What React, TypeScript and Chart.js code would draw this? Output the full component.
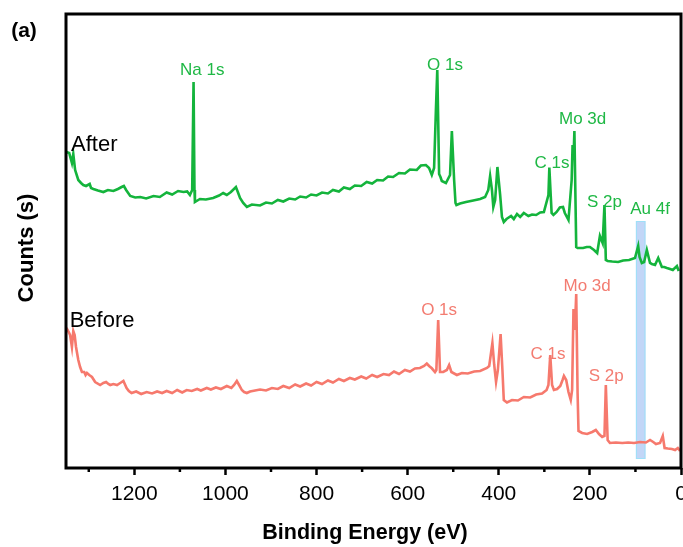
import React, { useEffect, useRef } from 'react';
import { Chart, registerables } from 'chart.js';

Chart.register(...registerables);

const FONT = "'Liberation Sans', Arial, Helvetica, sans-serif";
const GREEN = '#14b43c';
const GREEN_TEXT = '#1fb845';
const RED = '#f6796d';
const RED_TEXT = '#f37c71';

// Binding energy (eV) and counts (a.u.) for the "Before" spectrum
const beforeEnergy = [
  1349, 1344, 1341, 1337, 1334, 1331, 1328, 1323, 1319, 1315, 1310, 1307, 1304, 1299, 1293, 1286,
  1275, 1268, 1262, 1257, 1253, 1246, 1238, 1231, 1224, 1217, 1212, 1206, 1196, 1185, 1173, 1161,
  1150, 1139, 1129, 1117, 1106, 1095, 1085, 1074, 1062, 1054, 1041, 1032, 1021, 1010, 997, 987,
  981, 975, 970, 964, 959, 953, 946, 935, 924, 911, 898, 885, 873, 860, 847, 836, 823, 812, 800,
  788, 775, 764, 751, 740, 727, 716, 702, 691, 678, 667, 653, 641, 630, 619, 606, 595, 584, 573,
  564, 558, 553, 547, 540, 537, 535, 533, 531, 529, 522, 514, 509, 504, 492, 481, 468, 454, 441,
  426, 421, 414, 410, 406, 402, 396, 392, 389, 382, 371, 358, 345, 331, 318, 305, 295, 291, 287,
  283, 279, 272, 265, 260, 257, 252, 247, 242, 239, 236, 233, 230, 227, 225, 217, 206, 195, 187,
  180, 173, 168, 165, 161, 156, 143, 129, 116, 103, 90, 77, 68, 61, 55, 46, 40, 36, 29, 20, 13, 7, 2,
];
const beforeCounts = [
  140, 136, 133, 121, 137, 133, 121, 108, 101, 96, 96, 93, 95, 93, 91, 86,
  83, 85, 86, 84, 83, 84, 83, 85, 87, 80, 77, 75, 76.5, 74, 76, 74.5,
  76.5, 75, 77, 75, 78, 75.5, 78, 77, 79, 77.5, 80, 78.5, 80.5, 79, 82, 80,
  83, 87, 83, 78, 76, 75, 76.5, 77.5, 78.5, 77.5, 80, 79, 82, 80, 83.5, 81.5, 84.5, 82.5, 86,
  84, 87.5, 85.5, 89, 87, 90, 88.5, 91.5, 89.5, 93, 91, 94, 93, 96.5, 94, 98, 96.5, 99.5, 100,
  102, 104.5, 102, 99.7, 96, 98, 123, 148, 123, 96, 96, 98, 103, 96, 93, 95, 94.5, 96.5, 97,
  100, 102, 125, 103, 86, 98, 134, 98, 68, 65.5, 68, 67.5, 71, 70.5, 73.5, 74.5, 78, 83, 113,
  83, 78, 79, 82, 88, 92, 88, 76, 68, 78, 159, 138, 174, 75, 37, 35, 34, 36, 38,
  34, 31, 32, 83, 28, 25, 25.5, 25, 25.5, 25, 26, 25.5, 28, 26, 24, 25, 32, 20, 19.5, 19, 18, 20, 17,
];

// Binding energy (eV) and counts (a.u.) for the "After" spectrum
const afterEnergy = [
  1349, 1343, 1337, 1334, 1330, 1323, 1317, 1312, 1306, 1298, 1295, 1290, 1280, 1268, 1258, 1246,
  1236, 1228, 1223, 1218, 1209, 1198, 1187, 1174, 1158, 1144, 1129, 1117, 1104, 1092, 1084, 1078,
  1073, 1070, 1068, 1067, 1056, 1043, 1027, 1014, 1005, 997, 988, 977, 972, 968, 961, 953, 942,
  924, 911, 898, 885, 873, 860, 847, 836, 823, 812, 800, 788, 775, 764, 751, 740, 727, 716, 702,
  690, 678, 667, 654, 643, 632, 619, 606, 595, 580, 571, 560, 553, 547, 542, 538, 535, 533, 531,
  528, 525, 516, 507, 503, 498, 495, 493, 485, 472, 456, 441, 430, 423, 419, 415, 412, 408, 403,
  397, 393, 389, 383, 373, 367, 360, 353, 345, 335, 327, 318, 309, 301, 291, 289, 286, 284, 280,
  273, 266, 259, 255, 247, 240, 238, 236, 234, 230, 227, 223, 215, 207, 200, 191, 184, 178, 172,
  168, 165, 161, 151, 138, 127, 114, 101, 94, 91, 86, 81, 75, 68, 64, 57, 50, 42, 37, 31, 24, 18,
  9, 5, 2,
];
const afterCounts = [
  316, 315, 305, 314, 298, 288, 285, 283, 282, 284, 280, 279, 277.5, 276, 278, 277,
  279, 281, 282, 278, 272, 270.5, 271, 269.5, 272, 271, 275.5, 273.5, 277, 276, 276.5, 273,
  278, 386, 278, 266, 269, 268.5, 270, 272.5, 275, 273, 276, 281, 275, 270, 265, 261, 263.5,
  262.5, 265.5, 264.5, 268, 266.5, 269.5, 268.5, 271.5, 270.5, 273.5, 272.5, 275.5, 274.5, 278, 276.5, 280.5, 279, 282.5,
  282, 286, 284.5, 288, 287.5, 291.5, 291, 295, 294.5, 298.5, 298, 302.5, 303, 300, 293, 300, 358, 398, 348,
  294, 291, 287, 285, 293, 337, 288, 265, 263, 264.5, 266, 267.5, 269, 271, 278, 292, 278, 261, 268,
  301, 273, 251, 246, 249, 252, 249, 254, 251, 255, 252, 253.5, 253, 255.5, 256, 273, 300.5, 273, 255,
  253, 256, 260.5, 261, 255, 248, 288, 323, 308, 337, 221, 220, 220, 220, 221, 221, 218, 215, 232,
  225, 263, 208, 207, 206.5, 206, 207.5, 208, 210, 222, 211, 205, 206, 218, 205, 204, 203, 210, 201, 201, 200, 199,
  198, 202, 197,
];

// Minor tick positions on the energy axis
const minorTicks = [1300, 1100, 900, 700, 500, 300, 100];

// Highlighted Au 4f window
const auWindowEnergy = [78, 99];
const auWindowCounts = [9, 247];

// Peak labels
const afterLabels = ['Na 1s', 'O 1s', 'C 1s', 'Mo 3d', 'S 2p', 'Au 4f'];
const afterLabelEnergy = [1051, 518, 283, 216, 168, 68];
const afterLabelCounts = [398, 403, 304.5, 349, 266, 259];

const beforeLabels = ['O 1s', 'C 1s', 'Mo 3d', 'S 2p'];
const beforeLabelEnergy = [531, 292, 206, 164];
const beforeLabelCounts = [158, 114, 181.5, 92];

const seriesNames = ['After', 'Before'];
const seriesNameEnergy = [1339, 1342];
const seriesNameCounts = [323, 147];

const decorPlugin = {
  id: 'decor',
  beforeDatasetsDraw(chart: any) {
    const { ctx } = chart;
    const xs = chart.scales.x;
    const ys = chart.scales.y;
    const x1 = xs.getPixelForValue(auWindowEnergy[1]);
    const x2 = xs.getPixelForValue(auWindowEnergy[0]);
    const y1 = ys.getPixelForValue(auWindowCounts[1]);
    const y2 = ys.getPixelForValue(auWindowCounts[0]);
    ctx.save();
    ctx.fillStyle = '#c2d6f7';
    ctx.fillRect(x1, y1, x2 - x1, y2 - y1);
    ctx.strokeStyle = '#9ee0f8';
    ctx.lineWidth = 1;
    ctx.strokeRect(x1 + 0.5, y1 + 0.5, x2 - x1 - 1, y2 - y1 - 1);
    ctx.restore();
  },
  afterDatasetsDraw(chart: any) {
    const { ctx, chartArea } = chart;
    const xs = chart.scales.x;
    const ys = chart.scales.y;
    ctx.save();
    // frame
    ctx.strokeStyle = '#000';
    ctx.lineWidth = 3;
    ctx.strokeRect(chartArea.left, chartArea.top, chartArea.right - chartArea.left, chartArea.bottom - chartArea.top);
    // minor ticks
    ctx.lineWidth = 2.5;
    minorTicks.forEach((v) => {
      const px = xs.getPixelForValue(v);
      ctx.beginPath();
      ctx.moveTo(px, chartArea.bottom);
      ctx.lineTo(px, chartArea.bottom + 4);
      ctx.stroke();
    });
    // peak labels
    ctx.textAlign = 'center';
    ctx.textBaseline = 'middle';
    ctx.font = `17px ${FONT}`;
    ctx.fillStyle = GREEN_TEXT;
    afterLabels.forEach((t, i) => {
      ctx.fillText(t, xs.getPixelForValue(afterLabelEnergy[i]), ys.getPixelForValue(afterLabelCounts[i]));
    });
    ctx.fillStyle = RED_TEXT;
    beforeLabels.forEach((t, i) => {
      ctx.fillText(t, xs.getPixelForValue(beforeLabelEnergy[i]), ys.getPixelForValue(beforeLabelCounts[i]));
    });
    // series names
    ctx.textAlign = 'left';
    ctx.font = `22px ${FONT}`;
    ctx.fillStyle = '#000';
    seriesNames.forEach((t, i) => {
      ctx.fillText(t, xs.getPixelForValue(seriesNameEnergy[i]), ys.getPixelForValue(seriesNameCounts[i]));
    });
    // axis titles and panel letter
    ctx.textAlign = 'center';
    ctx.font = `bold 21.5px ${FONT}`;
    ctx.fillText('Binding Energy (eV)', chartArea.left + 299, 533);
    ctx.save();
    ctx.translate(27, 248);
    ctx.rotate(-Math.PI / 2);
    ctx.font = `bold 22px ${FONT}`;
    ctx.fillText('Counts (s)', 0, 0);
    ctx.restore();
    ctx.font = `bold 21px ${FONT}`;
    ctx.fillText('(a)', 24, 31);
    ctx.restore();
  },
};

export default function App() {
  const ref = useRef<HTMLCanvasElement | null>(null);
  useEffect(() => {
    if (!ref.current) return;
    const chart = new Chart(ref.current, {
      type: 'line',
      data: {
        datasets: [
          {
            label: 'Before',
            data: beforeEnergy.map((e, i) => ({ x: e, y: beforeCounts[i] })),
            borderColor: RED,
            borderWidth: 2.6,
            pointRadius: 0,
            tension: 0,
            fill: false,
          },
          {
            label: 'After',
            data: afterEnergy.map((e, i) => ({ x: e, y: afterCounts[i] })),
            borderColor: GREEN,
            borderWidth: 2.6,
            pointRadius: 0,
            tension: 0,
            fill: false,
          },
        ],
      },
      options: {
        animation: false,
        responsive: false,
        devicePixelRatio: 1,
        layout: { padding: { left: 0, top: 14, right: 19, bottom: 0 } },
        plugins: { legend: { display: false }, tooltip: { enabled: false } },
        scales: {
          x: {
            type: 'linear',
            min: 0,
            max: 1350,
            reverse: true,
            ticks: {
              stepSize: 200,
              includeBounds: false,
              color: '#000',
              font: { family: FONT, size: 21 },
              padding: 7,
              maxRotation: 0,
              autoSkip: false,
              callback: (v: any) => String(v),
            },
            grid: {
              display: true,
              drawOnChartArea: false,
              drawTicks: true,
              tickLength: 7,
              tickWidth: 2.5,
              tickColor: '#000',
            },
            border: { display: false },
            afterFit: (s: any) => {
              s.height = 79;
            },
          },
          y: {
            type: 'linear',
            min: 0,
            max: 454,
            ticks: { display: false },
            grid: { display: false, drawTicks: false },
            border: { display: false },
            afterFit: (s: any) => {
              s.width = 66;
            },
          },
        },
      },
      plugins: [decorPlugin],
    } as any);
    return () => chart.destroy();
  }, []);
  return (
    <div style={{ position: 'fixed', left: 0, top: 0, width: 683, height: 547, overflow: 'hidden', background: '#fff' }}>
      <canvas ref={ref} width={700} height={547} style={{ display: 'block', width: 700, height: 547 }} />
    </div>
  );
}
